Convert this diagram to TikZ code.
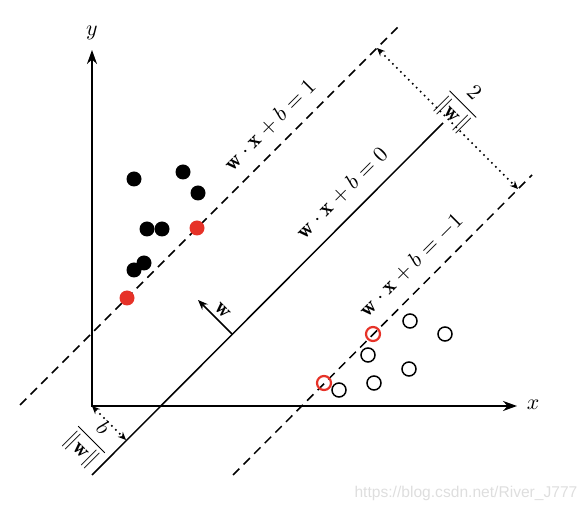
\documentclass[tikz,border=0pt]{standalone}
\usetikzlibrary{arrows.meta}
\usepackage{fontspec}
\newfontfamily\wmfont{Liberation Sans}
\definecolor{svmred}{RGB}{230,50,40}
\definecolor{wmgray}{RGB}{222,222,222}
\begin{document}
\begin{tikzpicture}[x=0.5pt,y=-0.5pt,
  axis/.style={line width=1pt,{Stealth[length=7pt,width=5pt]}-{Stealth[length=7pt,width=5pt]}},
  hyper/.style={line width=0.75pt},
  marginline/.style={line width=0.75pt,dash pattern=on 4.5pt off 3pt},
  gaparrow/.style={line width=0.8pt,dotted,{Stealth[length=4pt,width=3.5pt]}-{Stealth[length=4pt,width=3.5pt]}},
  warrow/.style={line width=0.75pt,-{Stealth[length=5pt,width=4pt]}},
  lab/.style={font=\fontsize{11}{13}\selectfont,inner sep=1pt},
  bdot/.style={circle,fill=black,inner sep=0pt,minimum size=7.5pt},
  rdot/.style={circle,fill=svmred,inner sep=0pt,minimum size=7.5pt},
  odot/.style={circle,draw=black,line width=0.75pt,inner sep=0pt,minimum size=7pt},
  rodot/.style={circle,draw=svmred,line width=1.1pt,inner sep=0pt,minimum size=7pt},
]
\useasboundingbox (0,0) rectangle (588,512);

% axes
\coordinate (O) at (92,406);
\coordinate (ytip) at (92,50);
\coordinate (xtip) at (517,406);
\draw[axis] (ytip) |- (xtip);
\node[lab] (ylab) at (92,33) {$y$};
\node[lab] (xlab) at (533,405) {$x$};

% hyperplanes
\coordinate (h0a) at (92,475);
\coordinate (h0b) at (443,123);
\coordinate (h1a) at (20,405);
\coordinate (h1b) at (400,25);
\coordinate (hma) at (233,475);
\coordinate (hmb) at (532,175);
\draw[hyper] (h0a) -- (h0b);
\draw[marginline] (h1a) -- (h1b);
\draw[marginline] (hma) -- (hmb);

% margin arrows
\coordinate (g1) at (377,48);
\coordinate (g2) at (518,189);
\draw[gaparrow] (g1) -- (g2);
\coordinate (bfoot) at (126,440);
\draw[gaparrow] (O) -- (bfoot);

% normal vector
\coordinate (wbase) at (232,334);
\coordinate (wtip) at (198,300);
\draw[warrow] (wbase) -- (wtip);

% labels
\node[lab,rotate=45] (l1) at (270,125) {$\mathbf{w}\cdot\mathbf{x}+b=1$};
\node[lab,rotate=45] (l0) at (342,193) {$\mathbf{w}\cdot\mathbf{x}+b=0$};
\node[lab,rotate=45] (lm) at (411,265) {$\mathbf{w}\cdot\mathbf{x}+b=-1$};
\node[lab,rotate=-45] (f2) at (462,105) {$\displaystyle\frac{2}{\|\mathbf{w}\|}$};
\node[lab,rotate=-45] (fb) at (91,440) {$\displaystyle\frac{b}{\|\mathbf{w}\|}$};
\node[lab,rotate=-45] (wl) at (223,311) {$\mathbf{w}$};

% positive class
\node[bdot] (p1) at (134,179) {};
\node[bdot] (p2) at (183,172) {};
\node[bdot] (p3) at (198,193) {};
\node[bdot] (p4) at (147,229) {};
\node[bdot] (p5) at (162,229) {};
\node[bdot] (p6) at (144,263) {};
\node[bdot] (p7) at (134,270) {};
\node[rdot] (s1) at (197,228) {};
\node[rdot] (s2) at (127,298) {};

% negative class
\node[odot] (n1) at (410,321) {};
\node[odot] (n2) at (445,334) {};
\node[odot] (n3) at (368,355) {};
\node[odot] (n4) at (409,369) {};
\node[odot] (n5) at (374,383) {};
\node[odot] (n6) at (339,390) {};
\node[rodot] (s3) at (373,334) {};
\node[rodot] (s4) at (324,383) {};

% watermark
\node[font=\wmfont\fontsize{7.8}{9}\selectfont,text=wmgray] (wm) at (466,493) {https://blog.csdn.net/River\_J777};
\end{tikzpicture}
\end{document}
